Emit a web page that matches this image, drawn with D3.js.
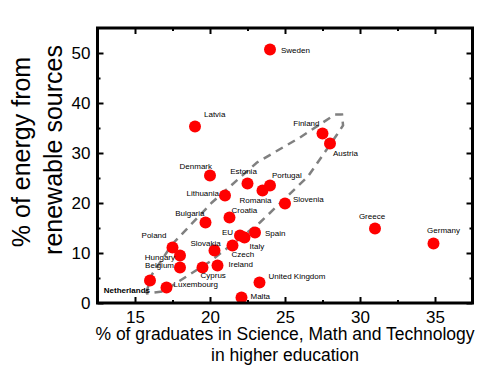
<!DOCTYPE html>
<html lang="en">
<head>
  <meta charset="UTF-8"/>
  <title>Renewables vs STEM graduates</title>
  <script src="https://d3js.org/d3.v7.min.js"></script>
  <style>
    body { margin: 0; background: #fff; }
    text { font-family: Arial, "Liberation Sans", sans-serif; }
  </style>
</head>
<body>
<script>
  var w = 493;
  var h = 377;

  // data
  var countries = ["Sweden", "Latvia", "Finland", "Austria", "Denmark", "Estonia", "Portugal",
    "Romania", "Lithuania", "Slovenia", "Croatia", "Bulgaria", "Spain", "EU", "Italy", "Czech",
    "Slovakia", "Ireland", "Cyprus", "Belgium", "Hungary", "Poland", "Netherlands", "Luxembourg",
    "Malta", "United Kingdom", "Greece", "Germany"];
  var stemGraduates = [24.0, 19.0, 27.5, 28.0, 20.0, 22.5, 24.0,
    23.5, 21.0, 25.0, 21.3, 19.7, 23.0, 22.0, 22.3, 21.5,
    20.3, 20.5, 19.5, 18.0, 18.0, 17.5, 16.0, 17.1,
    22.1, 23.3, 31.0, 34.9];
  var renewableShare = [50.7, 35.3, 33.9, 31.9, 25.5, 23.9, 23.5,
    22.5, 21.5, 19.9, 17.1, 16.1, 14.1, 13.5, 13.1, 11.5,
    10.5, 7.5, 7.1, 7.1, 9.5, 11.1, 4.5, 3.1,
    1.1, 4.1, 14.9, 11.9];

  var xTicks = [15, 20, 25, 30, 35];
  var xMinor = [17.5, 22.5, 27.5, 32.5];
  var yTicks = [0, 10, 20, 30, 40, 50];
  var yMinor = [5, 15, 25, 35, 45];

  // hand drawn dashed loop around the trend (data units)
  var loopX = [15.73, 16.13, 17.47, 20.13, 23.13, 26.0, 28.33, 28.8, 28.87, 28.47, 26.53, 23.33, 20.0, 16.87, 15.73];
  var loopY = [1.9, 5.7, 11.7, 20.1, 28.1, 33.1, 37.7, 37.7, 35.5, 33.7, 25.3, 16.1, 8.3, 2.3, 1.9];

  // label placement: [dx, dy, anchor]
  var labelPos = {
    "Sweden": [11, 3, "start"], "Latvia": [9, -10, "start"], "Finland": [-3, -8, "end"],
    "Austria": [3, 12, "start"], "Denmark": [2, -7, "end"], "Estonia": [-4, -10, "middle"],
    "Portugal": [2, -8, "start"], "Romania": [-23, 12, "start"], "Lithuania": [-6, 0, "end"],
    "Slovenia": [8, -2, "start"], "Croatia": [2, -5, "start"], "Bulgaria": [-1, -7, "end"],
    "Spain": [10, 3, "start"], "EU": [-7, -1, "end"], "Italy": [5, 11, "start"],
    "Czech": [-1, 11, "start"], "Slovakia": [-9, -5, "middle"], "Ireland": [11, 1, "start"],
    "Cyprus": [-2, 10, "start"], "Belgium": [-6, 0, "end"], "Hungary": [-5, 4, "end"],
    "Poland": [-6, -10, "end"], "Netherlands": [0, 12, "end"], "Luxembourg": [7, -1, "start"],
    "Malta": [9, 1, "start"], "United Kingdom": [9, -4, "start"], "Greece": [-3, -10, "middle"],
    "Germany": [10, -11, "middle"]
  };

  var plotLeft = 97.5, plotRight = 472.5, plotTop = 28, plotBottom = 303;

  var xScale = d3.scaleLinear().domain([12.5, 37.5]).range([plotLeft, plotRight]);
  var yScale = d3.scaleLinear().domain([0, 55]).range([plotBottom, plotTop]);

  var svg = d3.select("body")
          .append("svg")
          .attr("width", w)
          .attr("height", h);

  var points = countries.map(function(c, i) {
    return {name: c, x: stemGraduates[i], y: renewableShare[i]};
  });

  // dashed loop
  var loop = loopX.map(function(d, i) { return [d, loopY[i]]; });
  svg.append("path")
          .datum(loop)
          .attr("d", d3.line()
                  .x(function(d) { return xScale(d[0]); })
                  .y(function(d) { return yScale(d[1]); }))
          .attr("fill", "none")
          .attr("stroke", "#808080")
          .attr("stroke-width", 2.5)
          .attr("stroke-dasharray", "8,6");

  // points
  svg.selectAll("circle")
          .data(points)
          .enter()
          .append("circle")
          .attr("cx", function(d) { return xScale(d.x); })
          .attr("cy", function(d) { return yScale(d.y); })
          .attr("r", 6)
          .attr("fill", "#ff0000");

  svg.selectAll("text.lbl")
          .data(points)
          .enter()
          .append("text")
          .attr("class", "lbl")
          .text(function(d) { return d.name; })
          .attr("x", function(d) { return xScale(d.x) + labelPos[d.name][0]; })
          .attr("y", function(d) { return yScale(d.y) + labelPos[d.name][1]; })
          .attr("text-anchor", function(d) { return labelPos[d.name][2]; })
          .style("font-size", "8px")
          .style("font-weight", function(d) { return d.name == "Netherlands" ? "bold" : "normal"; })
          .attr("fill", "#000");

  // axes, ticks pointing inward on all four sides
  function styleAxis(g) {
    g.select(".domain").remove();
    g.selectAll(".tick line").attr("stroke", "#000").attr("stroke-width", 2);
    g.selectAll(".tick text").style("font-size", "17px").attr("fill", "#000");
  }

  svg.append("g")
          .attr("transform", "translate(0," + plotBottom + ")")
          .call(d3.axisBottom(xScale).tickValues(xTicks).tickSize(-6).tickPadding(8))
          .call(styleAxis);
  svg.append("g")
          .attr("transform", "translate(0," + plotBottom + ")")
          .call(d3.axisBottom(xScale).tickValues(xMinor).tickSize(-3).tickFormat(""))
          .call(styleAxis);
  svg.append("g")
          .attr("transform", "translate(0," + plotTop + ")")
          .call(d3.axisTop(xScale).tickValues(xTicks).tickSize(-6).tickFormat(""))
          .call(styleAxis);
  svg.append("g")
          .attr("transform", "translate(0," + plotTop + ")")
          .call(d3.axisTop(xScale).tickValues(xMinor).tickSize(-3).tickFormat(""))
          .call(styleAxis);

  svg.append("g")
          .attr("transform", "translate(" + plotLeft + ",0)")
          .call(d3.axisLeft(yScale).tickValues(yTicks).tickSize(-6).tickPadding(7))
          .call(styleAxis);
  svg.append("g")
          .attr("transform", "translate(" + plotLeft + ",0)")
          .call(d3.axisLeft(yScale).tickValues(yMinor).tickSize(-3).tickFormat(""))
          .call(styleAxis);
  svg.append("g")
          .attr("transform", "translate(" + plotRight + ",0)")
          .call(d3.axisRight(yScale).tickValues(yTicks).tickSize(-6).tickFormat(""))
          .call(styleAxis);
  svg.append("g")
          .attr("transform", "translate(" + plotRight + ",0)")
          .call(d3.axisRight(yScale).tickValues(yMinor).tickSize(-3).tickFormat(""))
          .call(styleAxis);

  // frame
  svg.append("rect")
          .attr("x", plotLeft)
          .attr("y", plotTop)
          .attr("width", plotRight - plotLeft)
          .attr("height", plotBottom - plotTop)
          .attr("fill", "none")
          .attr("stroke", "#000")
          .attr("stroke-width", 3);

  // X-axis title
  svg.append("text")
          .attr("text-anchor", "middle")
          .attr("x", (plotLeft + plotRight) / 2)
          .attr("y", 340)
          .style("font-size", "17.5px")
          .text("% of graduates in Science, Math and Technology");
  svg.append("text")
          .attr("text-anchor", "middle")
          .attr("x", (plotLeft + plotRight) / 2)
          .attr("y", 361)
          .style("font-size", "17.5px")
          .text("in higher education");

  // Y-axis title
  svg.append("text")
          .attr("text-anchor", "middle")
          .attr("transform", "translate(30,152) rotate(-90)")
          .style("font-size", "25px")
          .text("% of energy from");
  svg.append("text")
          .attr("text-anchor", "middle")
          .attr("transform", "translate(62,150) rotate(-90)")
          .style("font-size", "25px")
          .text("renewable sources");
</script>
</body>
</html>
